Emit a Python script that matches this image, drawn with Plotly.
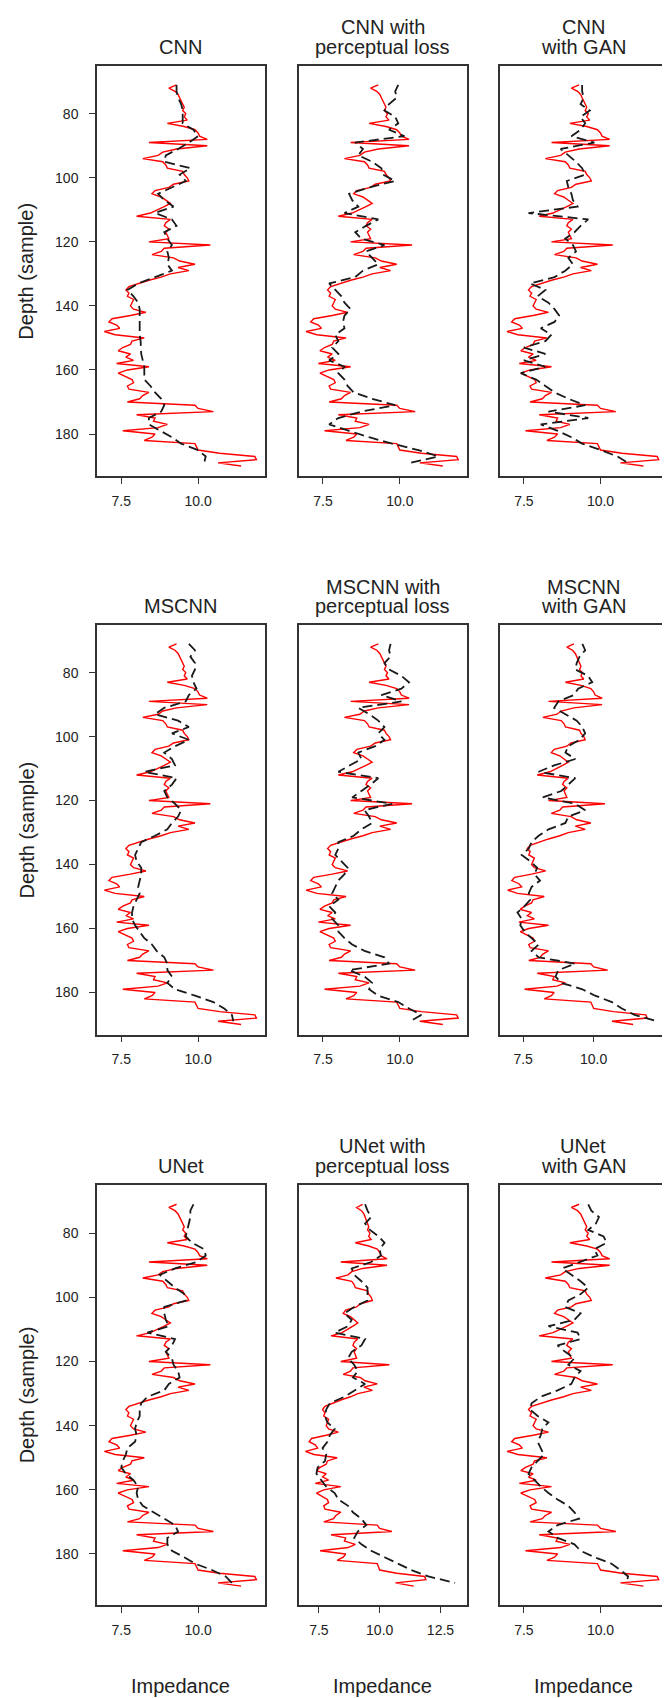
import plotly.graph_objects as go

# ---------------- data ----------------
DEPTH_TRUE = list(range(71, 191))
TRUE_IMPEDANCE = [
    9.30, 9.05, 9.25, 9.35, 9.40, 9.45, 9.50, 9.55, 9.50, 9.60,
    9.55, 9.65, 9.00, 9.55, 9.90, 10.00, 10.05, 10.30, 8.40, 10.30,
    9.30, 8.85, 8.70, 8.20, 8.85, 8.95, 9.00, 9.50, 9.55, 9.65,
    9.70, 9.20, 9.05, 8.60, 8.50, 8.80, 8.95, 9.10, 8.90, 8.70,
    8.45, 8.00, 9.10, 8.95, 8.90, 9.05, 8.95, 9.00, 9.05, 8.40,
    10.40, 8.90, 8.80, 8.50, 9.20, 9.40, 9.90, 9.35, 9.70, 9.10,
    8.80, 8.40, 8.05, 7.75, 7.65, 7.75, 7.70, 7.90, 7.85, 7.80,
    7.90, 8.30, 7.80, 7.20, 7.10, 7.35, 7.45, 6.95, 7.30, 8.25,
    7.85, 7.80, 7.55, 7.40, 7.80, 7.65, 7.90, 7.35, 8.40, 7.70,
    7.40, 7.60, 7.85, 7.90, 7.70, 7.75, 8.40, 8.20, 8.10, 7.70,
    9.90, 10.00, 10.50, 8.00, 8.60, 8.55, 9.00, 8.70, 7.55, 8.60,
    8.50, 8.25, 9.90, 9.95, 10.00, 10.70, 11.85, 11.90, 10.65, 11.40,
]

DEPTH_PRED = list(range(71, 190, 2))

PRED_CNN = [9.3, 9.3, 9.35, 9.45, 9.5, 9.5, 9.5, 9.85, 10.0, 9.7,
            9.35, 8.95, 8.9, 9.75, 9.4, 9.6, 9.15, 8.7, 8.9, 9.2,
            8.6, 9.15, 9.3, 8.9, 9.0, 9.15, 9.0, 9.05, 9.0, 9.15,
            8.6, 8.05, 7.7, 7.9, 8.05, 8.1, 8.1, 8.1, 8.08, 8.1,
            8.13, 8.15, 8.15, 8.2, 8.25, 8.25, 8.25, 8.45, 8.6, 8.8,
            8.9, 8.8, 8.4, 8.4, 8.8, 9.15, 9.45, 10.0, 10.25, 10.2]
PRED_CNN_PL = [9.95, 9.85, 9.9, 9.65, 9.5, 9.85, 9.95, 9.65, 10.15, 8.55,
               8.8, 8.65, 9.1, 9.4, 9.45, 9.85, 9.0, 8.35, 8.45, 8.65,
               8.2, 9.3, 8.9, 8.55, 8.75, 9.5, 8.9, 9.1, 9.3, 8.8,
               8.55, 7.7, 7.9, 8.1, 8.2, 8.4, 8.2, 8.15, 8.2, 7.9,
               8.0, 7.8, 8.0, 7.7, 8.2, 8.0, 8.2, 8.3, 8.5, 9.1,
               9.85, 8.75, 8.0, 7.7, 8.35, 9.0, 9.75, 10.6, 11.25, 10.35]
PRED_CNN_GAN = [9.4, 9.4, 9.45, 9.35, 9.65, 9.35, 9.5, 9.35, 9.05, 9.8,
                8.7, 8.95, 9.2, 9.4, 9.5, 8.9, 8.95, 9.05, 9.1, 9.25,
                7.65, 9.6, 9.35, 9.15, 8.85, 9.1, 9.2, 8.95, 9.1, 8.85,
                8.5, 7.7, 8.2, 7.95, 8.3, 8.5, 8.65, 8.5, 8.05, 8.4,
                8.2, 7.5, 8.2, 7.5, 8.2, 7.4, 7.9, 8.2, 8.5, 8.95,
                9.5, 8.3, 9.6, 8.05, 8.6, 9.05, 9.4, 10.0, 10.55, 10.9]
PRED_MSCNN = [9.7, 9.9, 9.75, 9.9, 9.9, 9.8, 9.85, 9.95, 9.7, 9.6,
              8.9, 8.6, 9.35, 9.7, 9.15, 9.7, 9.25, 8.9, 9.15, 9.25,
              8.25, 9.3, 9.15, 8.9, 9.0, 9.25, 9.45, 9.35, 9.15, 9.0,
              8.6, 8.15, 8.05, 7.95, 8.0, 8.15, 8.15, 8.1, 8.05, 8.1,
              8.0, 7.9, 7.85, 7.85, 7.95, 8.1, 8.25, 8.5, 8.65, 8.9,
              9.0, 9.0, 9.15, 9.0, 9.25, 9.9, 10.5, 10.85, 11.1, 11.15]
PRED_MSCNN_PL = [9.7, 9.65, 9.7, 9.5, 9.65, 10.05, 10.3, 10.05, 9.4, 10.05,
                 8.65, 9.0, 9.3, 9.5, 9.3, 9.5, 9.2, 8.65, 8.75, 8.35,
                 8.0, 9.3, 9.05, 8.75, 8.45, 9.75, 8.85, 9.0, 9.1, 8.75,
                 8.5, 8.0, 8.0, 7.9, 8.1, 8.3, 8.2, 8.0, 7.9, 7.8,
                 8.0, 7.7, 7.9, 7.8, 8.0, 8.0, 8.2, 8.45, 8.85, 9.5,
                 9.65, 8.35, 8.85, 9.1, 9.0, 9.3, 9.95, 10.3, 10.7, 10.35]
PRED_MSCNN_GAN = [9.6, 9.7, 9.5, 9.4, 9.35, 9.8, 9.95, 9.45, 9.3, 8.75,
                  8.6, 9.0, 9.4, 9.6, 9.7, 9.5, 9.1, 9.0, 9.35, 8.6,
                  8.05, 9.35, 9.1, 8.85, 8.2, 9.35, 9.7, 9.1, 9.0, 8.4,
                  8.05, 7.8, 7.7, 7.45, 7.75, 8.0, 7.9, 8.1, 7.8, 7.7,
                  7.75, 7.55, 7.3, 7.45, 7.4, 7.55, 7.8, 8.05, 7.8, 8.05,
                  9.35, 8.75, 8.65, 8.85, 9.6, 10.05, 10.65, 11.0, 11.45, 12.25]
PRED_UNET = [9.85, 9.75, 9.75, 9.7, 9.65, 9.6, 9.8, 10.2, 10.25, 9.95,
             9.25, 8.75, 9.0, 9.25, 9.55, 9.6, 8.9, 8.9, 8.95, 9.05,
             8.35, 9.25, 9.15, 8.95, 9.15, 9.2, 9.35, 9.4, 9.05, 8.9,
             8.35, 8.15, 8.1, 8.1, 8.0, 7.95, 8.0, 7.95, 7.7, 7.65,
             7.55, 7.5, 7.65, 7.9, 8.05, 8.0, 8.05, 8.2, 8.55, 8.9,
             9.25, 9.35, 9.0, 9.0, 9.15, 9.55, 9.9, 10.45, 10.9, 11.1]
PRED_UNET_PL = [9.4, 9.5, 9.65, 9.4, 9.6, 9.95, 10.2, 10.0, 10.05, 9.65,
                8.85, 8.95, 9.25, 9.5, 9.5, 9.5, 8.95, 8.55, 8.85, 8.7,
                8.15, 9.4, 9.25, 8.85, 8.7, 8.95, 9.1, 8.9, 9.4, 8.95,
                8.55, 7.95, 7.8, 7.75, 7.85, 8.15, 7.95, 7.85, 7.65, 7.8,
                7.75, 7.45, 7.4, 7.6, 7.8, 8.15, 8.3, 8.7, 8.9, 9.25,
                9.45, 9.1, 8.95, 9.25, 9.65, 10.2, 10.75, 11.3, 12.0, 13.1]
PRED_UNET_GAN = [9.6, 9.7, 9.95, 9.85, 9.6, 10.1, 10.2, 9.8, 9.9, 9.35,
                 8.75, 9.05, 9.35, 9.6, 9.35, 8.95, 8.85, 9.35, 9.15, 8.3,
                 9.25, 9.35, 8.6, 8.85, 9.15, 8.95, 9.35, 9.15, 9.05, 8.6,
                 8.05, 7.75, 7.7, 7.95, 8.3, 8.1, 8.05, 7.95, 8.05, 8.15,
                 7.95, 7.75, 7.65, 7.85, 8.05, 8.3, 8.6, 8.95, 9.15, 9.3,
                 8.6, 8.3, 8.6, 9.15, 9.35, 9.8, 10.35, 10.65, 10.9, 10.85]

PREDICTIONS = [PRED_CNN, PRED_CNN_PL, PRED_CNN_GAN,
               PRED_MSCNN, PRED_MSCNN_PL, PRED_MSCNN_GAN,
               PRED_UNET, PRED_UNET_PL, PRED_UNET_GAN]
TITLES = [["CNN"], ["CNN with", "perceptual loss"], ["CNN", "with GAN"],
          ["MSCNN"], ["MSCNN with", "perceptual loss"], ["MSCNN", "with GAN"],
          ["UNet"], ["UNet with", "perceptual loss"], ["UNet", "with GAN"]]
Y_TICKS = [80, 100, 120, 140, 160, 180]
X_TICKS_2 = [7.5, 10.0]
X_TICKS_3 = [7.5, 10.0, 12.5]
Y_LABEL = "Depth (sample)"
X_LABEL = "Impedance"

# ---------------- layout ----------------
W, H = 670, 1698
FONT = "Liberation Sans, Arial, sans-serif"
TXT = "#222222"
AX = "#333333"

col_px = [(89, 256.7), (290.7, 458.5), (491.7, 659)]
row_px = [(58, 468.3), (617.3, 1026.7), (1176.7, 1597)]
y_ranges = [[193.2, 65.1], [193.2, 65.2], [195.9, 64.9]]
x_range_default = [6.71, 12.17]
x_range_special = {5: [6.67, 12.6], 7: [6.67, 13.57]}
x_ticks_special = {5: X_TICKS_3, 7: X_TICKS_3}

fig = go.Figure()
annotations = []
layout_axes = {}

for i in range(9):
    r, c = divmod(i, 3)
    n = i + 1
    xa = "x" if n == 1 else f"x{n}"
    ya = "y" if n == 1 else f"y{n}"
    fig.add_trace(go.Scatter(x=TRUE_IMPEDANCE, y=DEPTH_TRUE, mode="lines",
                             line=dict(color="#ff0000", width=1.4),
                             xaxis=xa, yaxis=ya, showlegend=False, hoverinfo="skip"))
    fig.add_trace(go.Scatter(x=PREDICTIONS[i], y=DEPTH_PRED, mode="lines",
                             line=dict(color="#1a1a1a", width=1.8, dash="10px,5px"),
                             xaxis=xa, yaxis=ya, showlegend=False, hoverinfo="skip"))

    x0, x1 = col_px[c]
    y0, y1 = row_px[r]
    xkey = "xaxis" if n == 1 else f"xaxis{n}"
    ykey = "yaxis" if n == 1 else f"yaxis{n}"
    layout_axes[xkey] = dict(
        domain=[x0 / W, x1 / W], anchor=ya,
        range=x_range_special.get(i, x_range_default),
        tickvals=x_ticks_special.get(i, X_TICKS_2), tickformat=".1f",
        ticks="outside", ticklen=6, tickwidth=1.2, tickcolor=AX,
        showline=True, linecolor=AX, linewidth=1.5, mirror=True,
        showgrid=False, zeroline=False,
        tickfont=dict(family=FONT, size=14, color=TXT),
        ticklabelstandoff=5,
    )
    yd = dict(
        domain=[1 - y1 / H, 1 - y0 / H], anchor=xa,
        range=y_ranges[r],
        showline=True, linecolor=AX, linewidth=1.5, mirror=True,
        showgrid=False, zeroline=False,
    )
    if c == 0:
        yd.update(tickvals=Y_TICKS, ticks="outside", ticklen=6, tickwidth=1.2,
                  tickcolor=AX, tickfont=dict(family=FONT, size=14, color=TXT),
                  ticklabelstandoff=8)
    else:
        yd.update(showticklabels=False, ticks="")
    layout_axes[ykey] = yd

    # titles
    cx = (x0 + x1) / 2 / W
    lines = TITLES[i]
    centers = [y0 - 19] if len(lines) == 1 else [y0 - 38.5, y0 - 19]
    for txt, yc in zip(lines, centers):
        annotations.append(dict(text=txt, x=cx, y=1 - yc / H, xref="paper", yref="paper",
                                xanchor="center", yanchor="middle", showarrow=False,
                                font=dict(family=FONT, size=20, color=TXT)))
    if c == 0:
        annotations.append(dict(text=Y_LABEL, x=18.5 / W, y=1 - ((y0 + y1) / 2) / H,
                                xref="paper", yref="paper", textangle=-90,
                                xanchor="center", yanchor="middle", showarrow=False,
                                font=dict(family=FONT, size=20, color=TXT)))
    if r == 2:
        annotations.append(dict(text=X_LABEL, x=cx, y=1 - 1678 / H,
                                xref="paper", yref="paper",
                                xanchor="center", yanchor="middle", showarrow=False,
                                font=dict(family=FONT, size=20, color=TXT)))

fig.update_layout(width=W, height=H, margin=dict(l=0, r=0, t=0, b=0),
                  paper_bgcolor="white", plot_bgcolor="white",
                  annotations=annotations, **layout_axes)

fig.write_html("out.html")
